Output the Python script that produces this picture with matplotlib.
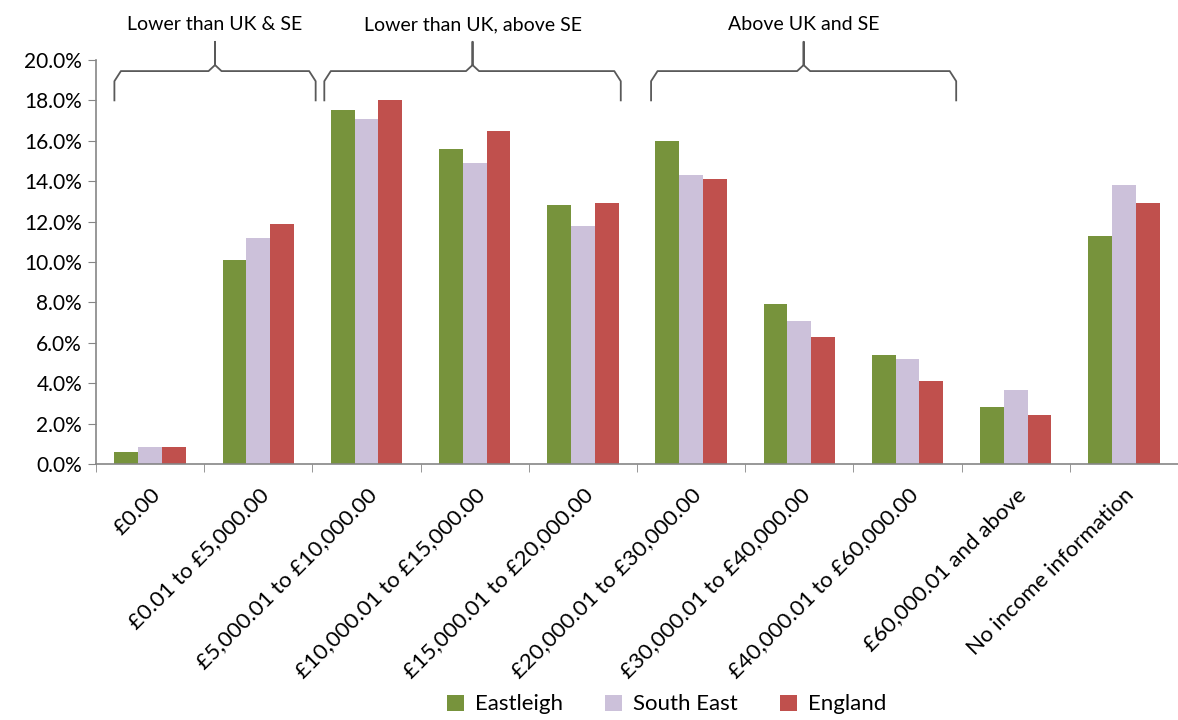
import numpy as np
import matplotlib.pyplot as plt
from matplotlib.ticker import FuncFormatter, FixedLocator

plt.rcParams['font.family'] = ['Lato', 'DejaVu Sans']

categories = ['£0.00', '£0.01 to £5,000.00', '£5,000.01 to £10,000.00',
              '£10,000.01 to £15,000.00', '£15,000.01 to £20,000.00',
              '£20,000.01 to £30,000.00', '£30,000.01 to £40,000.00',
              '£40,000.01 to £60,000.00', '£60,000.01 and above',
              'No income information']
eastleigh = [0.6, 10.1, 17.5, 15.6, 12.8, 16.0, 7.9, 5.4, 2.8, 11.3]
south_east = [0.85, 11.2, 17.1, 14.9, 11.8, 14.3, 7.1, 5.2, 3.65, 13.8]
england = [0.85, 11.9, 18.0, 16.5, 12.9, 14.1, 6.3, 4.1, 2.4, 12.9]

series = [('Eastleigh', eastleigh, '#77933C'),
          ('South East', south_east, '#CCC1DA'),
          ('England', england, '#C0504D')]

# brace groups: (label, left, right) in category units
groups = [('Lower than UK & SE', -0.33, 1.53),
          ('Lower than UK, above SE', 1.61, 4.35),
          ('Above UK and SE', 4.63, 7.45)]

fig = plt.figure(figsize=(11.78, 7.2), dpi=100)
ax = fig.add_axes([0.0815, 0.3556, 0.9185, 0.5611])

x = np.arange(len(categories))
w = 0.22
for i, (name, vals, col) in enumerate(series):
    ax.bar(x + (i - 1) * w, vals, w, color=col, label=name, zorder=2)

ax.set_xlim(-0.5, len(categories) - 0.5)
ax.set_ylim(0, 20)
ax.set_yticks(np.arange(0, 20.1, 2))
ax.yaxis.set_major_formatter(FuncFormatter(lambda v, p: '%.1f%%' % v))
ax.tick_params(axis='y', labelsize=15, length=6, color='#868686', pad=4)

ax.set_xticks(x)
ax.set_xticklabels(categories, rotation=45, ha='right', rotation_mode='anchor',
                   fontsize=16)
ax.tick_params(axis='x', which='major', length=0, pad=15)
ax.xaxis.set_minor_locator(FixedLocator(np.arange(-0.5, len(categories), 1)))
ax.tick_params(axis='x', which='minor', length=6, color='#868686')

for s in ['top', 'right']:
    ax.spines[s].set_visible(False)
for s in ['left', 'bottom']:
    ax.spines[s].set_color('#868686')
    ax.spines[s].set_linewidth(1.2)

# curly braces above the bars
y_end, y_mid, y_tip = 18.0, 19.45, 20.9
for label, x0, x1 in groups:
    xm = (x0 + x1) / 2
    r = 0.06
    bx = [x0, x0, x0 + r, xm - r, xm, xm, xm, xm + r, x1 - r, x1, x1]
    by = [y_end, y_mid - 0.5, y_mid, y_mid, y_mid + 0.3, y_tip,
          y_mid + 0.3, y_mid, y_mid, y_mid - 0.5, y_end]
    ax.plot(bx, by, color='#595959', lw=1.3, clip_on=False,
            solid_joinstyle='round')
    ax.text(xm, 21.75, label, ha='center', va='center', fontsize=14,
            clip_on=False)

fig.legend(loc='lower center', bbox_to_anchor=(0.566, -0.02), ncol=3,
           frameon=False, fontsize=16, handlelength=0.75, handleheight=0.75,
           columnspacing=1.9, handletextpad=0.5)

fig.savefig('out.png', dpi=100)
